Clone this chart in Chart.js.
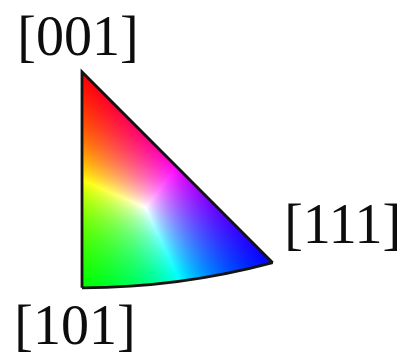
<!DOCTYPE html>
<html>
<head>
<meta charset="utf-8">
<script src="https://cdn.jsdelivr.net/npm/chart.js@4.4.0/dist/chart.umd.min.js"></script>
<style>
    html, body { margin: 0; padding: 0; background: #ffffff; }
    #wrap { width: 406px; height: 353px; }
</style>
</head>
<body>
<div id="wrap"><canvas id="ipfChart" width="406" height="353"></canvas></div>
<script>
// Cubic standard triangle (inverse pole figure colour key)
const poleLabels = ['[001]', '[101]', '[111]'];
const poleIndices = [[0, 0, 1], [1, 0, 1], [1, 1, 1]];
const poleColors = [[255, 0, 0], [0, 255, 0], [0, 0, 255]];

// Stereographic projection of a direction: returns {x, y} in plot units
// (x runs toward [010], y runs toward [100])
function project(h) {
    const n = Math.hypot(h[0], h[1], h[2]);
    const x = h[0] / n, y = h[1] / n, z = h[2] / n;
    return { x: y / (1 + z), y: x / (1 + z) };
}

const polePoints = poleIndices.map(project);

// Barycentric weights of point p in the projected triangle
function barycentric(p, a, b, c) {
    const det = (b.y - c.y) * (a.x - c.x) + (c.x - b.x) * (a.y - c.y);
    const w1 = ((b.y - c.y) * (p.x - c.x) + (c.x - b.x) * (p.y - c.y)) / det;
    const w2 = ((c.y - a.y) * (p.x - c.x) + (a.x - c.x) * (p.y - c.y)) / det;
    return [w1, w2, 1 - w1 - w2];
}

// Fill the fundamental zone with the colour key, pixel by pixel
const colourKeyPlugin = {
    id: 'colourKey',
    beforeDatasetsDraw(chart) {
        const { ctx, chartArea, scales } = chart;
        const w = Math.round(chartArea.right - chartArea.left);
        const h = Math.round(chartArea.bottom - chartArea.top);
        const img = ctx.createImageData(w, h);
        const [a, b, c] = polePoints;

        for (let py = 0; py < h; py++) {
            const v = scales.y.getValueForPixel(chartArea.top + py + 0.5);
            for (let px = 0; px < w; px++) {
                const u = scales.x.getValueForPixel(chartArea.left + px + 0.5);
                // inside: [100] >= [010] >= 0 and [001] >= [100]
                if (u < 0 || v < u) continue;
                if ((v + 1) * (v + 1) + u * u > 2) continue;

                const wts = barycentric({ x: u, y: v }, a, b, c).map(t => Math.max(0, t));
                const m = Math.max(wts[0], wts[1], wts[2]) || 1;
                let r = 0, g = 0, bl = 0;
                for (let k = 0; k < 3; k++) {
                    const f = wts[k] / m;
                    r += f * poleColors[k][0];
                    g += f * poleColors[k][1];
                    bl += f * poleColors[k][2];
                }
                const i = (py * w + px) * 4;
                img.data[i] = Math.min(255, r);
                img.data[i + 1] = Math.min(255, g);
                img.data[i + 2] = Math.min(255, bl);
                img.data[i + 3] = 255;
            }
        }
        // draw through a scratch canvas so the white page shows outside the zone
        const tmp = document.createElement('canvas');
        tmp.width = w;
        tmp.height = h;
        tmp.getContext('2d').putImageData(img, 0, 0);
        ctx.drawImage(tmp, chartArea.left, chartArea.top);
    },
    afterDatasetsDraw(chart) {
        const { ctx, scales } = chart;
        // [101]-[111] edge is a great circle: centre at [100]-axis -1, radius sqrt(2)
        const cx = scales.x.getPixelForValue(0);
        const cy = scales.y.getPixelForValue(-1);
        const rad = (scales.y.getPixelForValue(0) - cy) * Math.SQRT2;
        const p1 = polePoints[1], p2 = polePoints[2];
        const a1 = Math.atan2(scales.y.getPixelForValue(p1.y) - cy, scales.x.getPixelForValue(p1.x) - cx);
        const a2 = Math.atan2(scales.y.getPixelForValue(p2.y) - cy, scales.x.getPixelForValue(p2.x) - cx);
        ctx.save();
        ctx.strokeStyle = '#141414';
        ctx.lineWidth = 2.8;
        ctx.beginPath();
        ctx.arc(cx, cy, rad, a2, a1);
        ctx.stroke();
        ctx.restore();

        // pole labels
        const offsets = [[-4, -17], [-7, 56], [70, -20]];
        ctx.save();
        ctx.fillStyle = '#0d0d0d';
        ctx.font = '56px "Liberation Serif", "Times New Roman", serif';
        ctx.textAlign = 'center';
        ctx.textBaseline = 'alphabetic';
        poleLabels.forEach((label, i) => {
            const px = scales.x.getPixelForValue(polePoints[i].x) + offsets[i][0];
            const py = scales.y.getPixelForValue(polePoints[i].y) + offsets[i][1];
            ctx.fillText(label, px, py);
        });
        ctx.restore();
    }
};

const ppu = 521; // pixels per projected unit
const ctx = document.getElementById('ipfChart');

new Chart(ctx, {
    type: 'scatter',
    data: {
        datasets: [{
            label: 'edges',
            // [111] -> [001] -> [101]
            data: [polePoints[2], polePoints[0], polePoints[1]],
            showLine: true,
            borderColor: '#141414',
            borderWidth: 2.8,
            pointRadius: 0,
            tension: 0
        }]
    },
    options: {
        responsive: false,
        animation: false,
        layout: { padding: 0 },
        plugins: {
            legend: { display: false },
            tooltip: { enabled: false }
        },
        scales: {
            x: { type: 'linear', display: false, min: -82 / ppu, max: 324 / ppu },
            y: { type: 'linear', display: false, reverse: true, min: -72 / ppu, max: 281 / ppu }
        }
    },
    plugins: [colourKeyPlugin]
});
</script>
</body>
</html>
